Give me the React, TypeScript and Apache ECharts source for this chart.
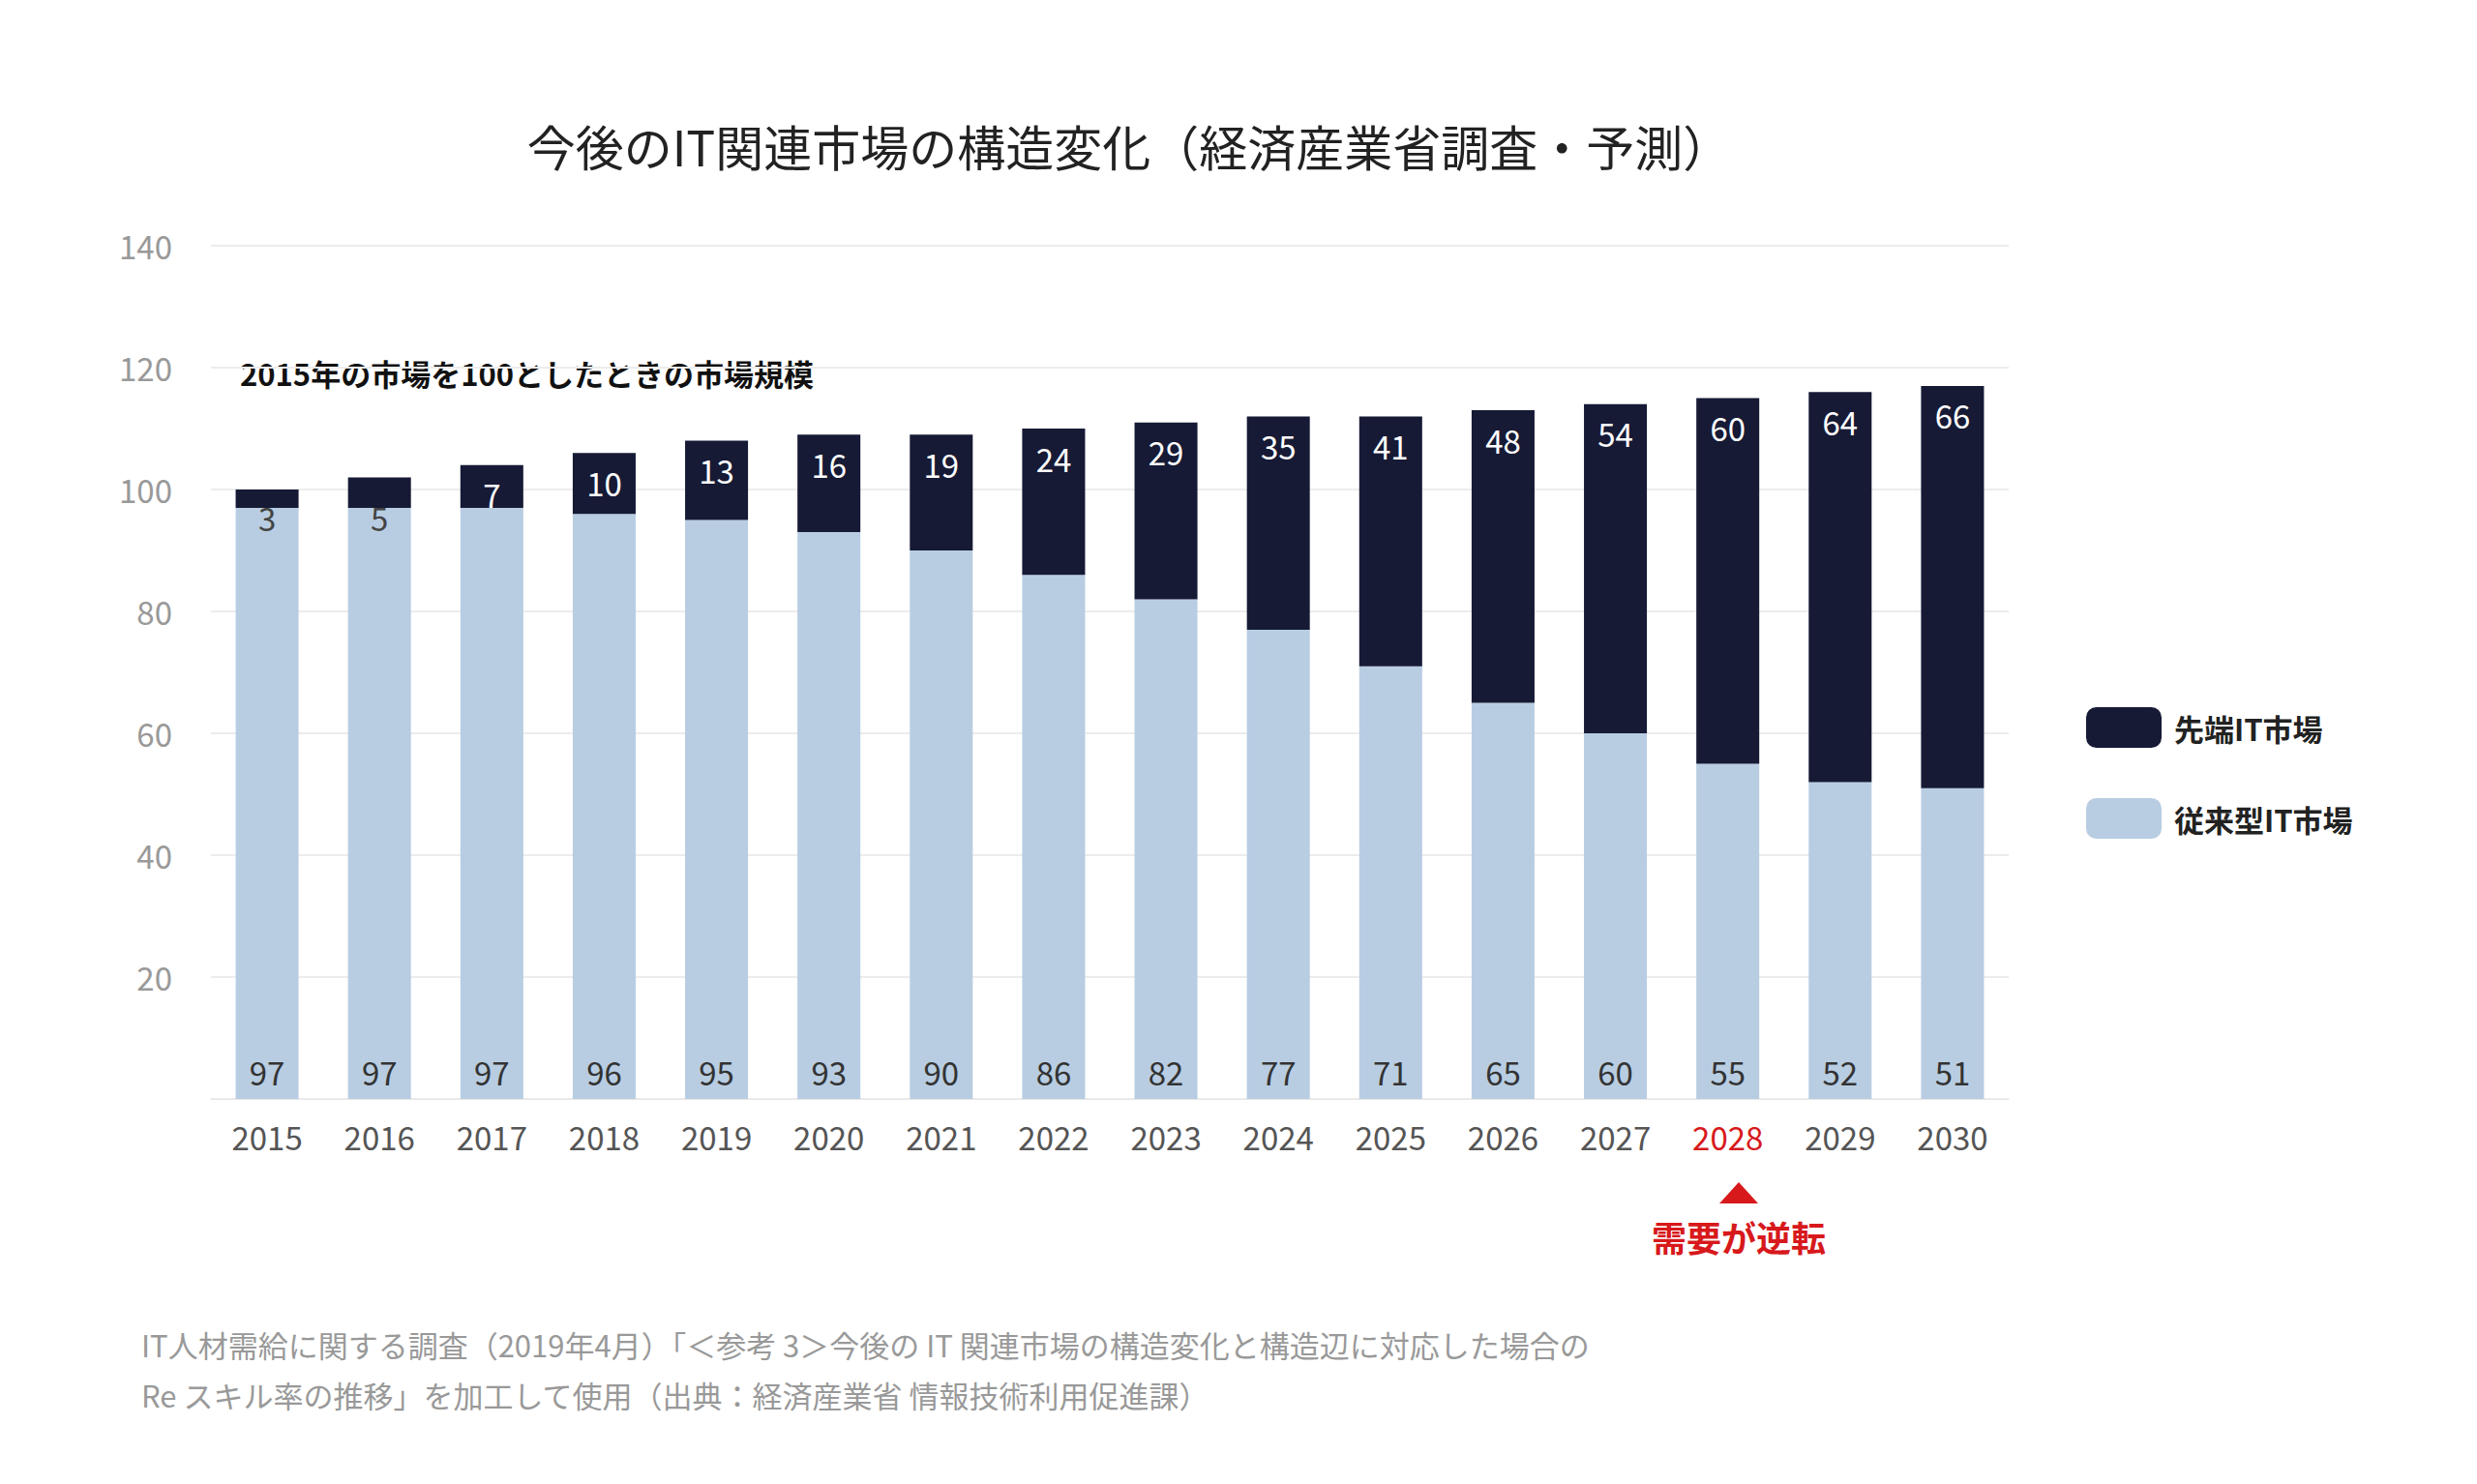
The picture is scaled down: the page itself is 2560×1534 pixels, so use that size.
import React, { useEffect, useRef } from 'react';
import * as echarts from 'echarts';

const years = ['2015', '2016', '2017', '2018', '2019', '2020', '2021', '2022', '2023', '2024', '2025', '2026', '2027', '2028', '2029', '2030'];
const legacyIT = [97, 97, 97, 96, 95, 93, 90, 86, 82, 77, 71, 65, 60, 55, 52, 51];
const advancedIT = [3, 5, 7, 10, 13, 16, 19, 24, 29, 35, 41, 48, 54, 60, 64, 66];
const highlightYear = '2028';

const FONT = '"Noto Sans CJK JP", "Noto Sans", sans-serif';

export default function App() {
  const chartRef = useRef<HTMLDivElement>(null);

  useEffect(() => {
    if (!chartRef.current) return;
    const chart = echarts.init(chartRef.current, undefined, { renderer: 'svg' });

    const option = {
      animation: false,
      backgroundColor: '#fff',
      textStyle: { fontFamily: FONT },
      title: {
        text: '今後のIT関連市場の構造変化（経済産業省調査・予測）',
        left: 1154,
        top: 112,
        textAlign: 'center',
        textStyle: { fontSize: 50, fontWeight: 'normal', color: '#222', fontFamily: FONT },
      },
      legend: {
        left: 2143,
        top: 718,
        orient: 'vertical',
        itemWidth: 78,
        itemHeight: 42,
        itemGap: 52,
        textStyle: { fontSize: 31, color: '#222', fontWeight: 'bold', padding: [0, 0, 0, 8] },
        data: ['先端IT市場', '従来型IT市場'],
      },
      grid: { left: 210, right: 476, top: 246, bottom: 390 },
      xAxis: {
        type: 'category',
        data: years,
        axisTick: { show: false },
        axisLine: { lineStyle: { color: '#e6e6e6' } },
        axisLabel: {
          fontSize: 33,
          margin: 22,
          color: (v: string) => (v === highlightYear ? '#d7191c' : '#555'),
        },
      },
      yAxis: {
        type: 'value',
        min: 0,
        max: 140,
        interval: 20,
        axisLine: { show: false },
        axisTick: { show: false },
        splitLine: { lineStyle: { color: '#ececec', width: 2 } },
        axisLabel: {
          fontSize: 33,
          color: '#999',
          margin: 40,
          formatter: (v: number) => (v === 0 ? '' : String(v)),
        },
      },
      series: [
        {
          name: '従来型IT市場',
          type: 'bar',
          stack: 'total',
          barWidth: '56%',
          itemStyle: { color: '#b8cde2' },
          data: legacyIT,
          label: {
            show: true,
            position: 'insideBottom',
            distance: 12,
            fontSize: 33,
            color: '#333',
          },
        },
        {
          name: '先端IT市場',
          type: 'bar',
          stack: 'total',
          itemStyle: { color: '#161a35' },
          data: advancedIT.map((v) => ({
            value: v,
            label: v < 6
              ? { position: 'bottom', distance: -6, color: '#444' }
              : { position: 'insideTop', distance: 14, color: '#fff' },
          })),
          label: { show: true, fontSize: 33 },
        },
      ],
      graphic: [
        {
          type: 'text',
          left: 240,
          top: 362,
          style: { text: '2015年の市場を100としたときの市場規模', fontSize: 31, fill: '#111', fontWeight: 'bold', fontFamily: FONT },
        },
        {
          type: 'polygon',
          shape: { points: [[1789, 1214], [1769, 1236], [1809, 1236]] },
          style: { fill: '#d7191c' },
        },
        {
          type: 'text',
          x: 1789,
          y: 1252,
          style: { text: '需要が逆転', fontSize: 36, fill: '#d7191c', fontWeight: 'bold', align: 'center', fontFamily: FONT },
        },
        {
          type: 'text',
          left: 138,
          top: 1355,
          style: {
            text: 'IT人材需給に関する調査（2019年4月）「＜参考 3＞今後の IT 関連市場の構造変化と構造辺に対応した場合の\nRe スキル率の推移」を加工して使用（出典：経済産業省 情報技術利用促進課）',
            fontSize: 31,
            lineHeight: 52,
            fill: '#999',
            fontFamily: FONT,
          },
        },
      ],
    };

    chart.setOption(option);
    return () => chart.dispose();
  }, []);

  return <div ref={chartRef} style={{ width: 2544, height: 1518 }} />;
}
